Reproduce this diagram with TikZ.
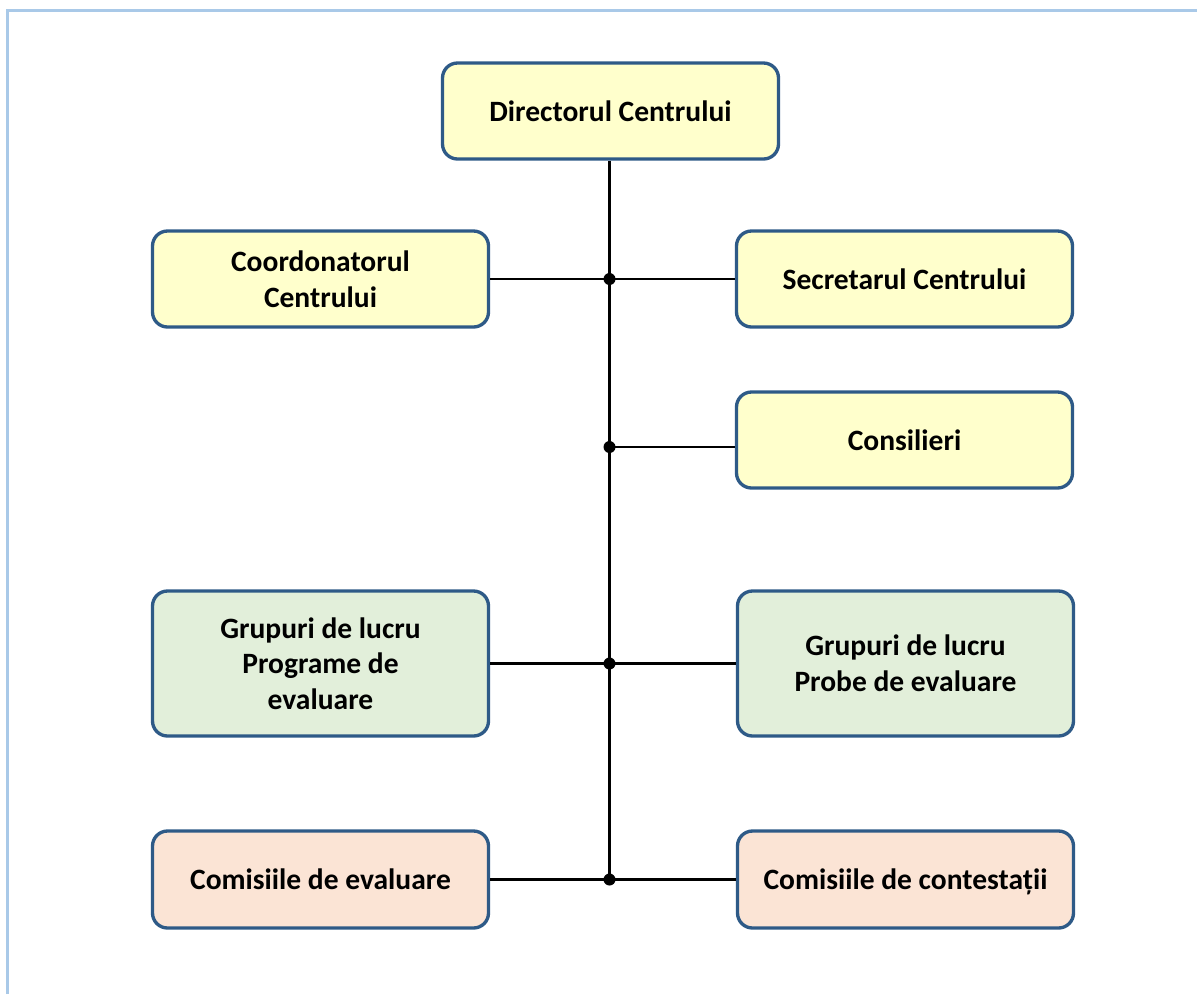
\documentclass[tikz,border=0pt]{standalone}
\usepackage{fontspec}
\setmainfont{Carlito}
\definecolor{boxline}{HTML}{2E5A87}
\definecolor{boxyellow}{HTML}{FFFFCC}
\definecolor{boxgreen}{HTML}{E2EFDA}
\definecolor{boxpeach}{HTML}{FBE4D5}
\definecolor{framebl}{HTML}{A9C9E8}
\begin{document}
\begin{tikzpicture}[
		orgbox/.style={draw=boxline, line width=1.9pt, rounded corners=0.3cm, align=center,
			minimum width=6.72cm, minimum height=1.92cm, font=\fontsize{16.8}{20.3}\selectfont\bfseries},
		yellowbox/.style={orgbox, fill=boxyellow},
		greenbox/.style={orgbox, fill=boxgreen, minimum height=2.9cm},
		peachbox/.style={orgbox, fill=boxpeach, minimum height=1.94cm, text height=11.6pt, text depth=0pt},
		link/.style={line width=1.6pt},
		joint/.style={circle, fill=black, inner sep=0pt, minimum size=0.24cm}
	]
		\useasboundingbox (0,0) rectangle (23.94,-19.88);
		\draw[framebl, line width=0.05cm] (0.15,-19.88) -- (0.15,-0.21) -- (23.94,-0.21);
		
		\node[yellowbox] (dir) at (12.21,-2.22) {Directorul Centrului};
		\node[yellowbox] (coord) at (6.41,-5.58) {Coordonatorul\\Centrului};
		\node[yellowbox] (secr) at (18.09,-5.58) {Secretarul Centrului};
		\node[yellowbox] (cons) at (18.09,-8.80) {Consilieri};
		\node[greenbox] (gprog) at (6.41,-13.27) {Grupuri de lucru\\Programe de\\evaluare};
		\node[greenbox] (gprob) at (18.11,-13.27) {Grupuri de lucru\\Probe de evaluare};
		\node[peachbox] (ceval) at (6.41,-17.59) {Comisiile de evaluare};
		\node[peachbox] (ccont) at (18.11,-17.59) {Comisiile de contestații};
		
		% junctions on the trunk
		\coordinate (j1) at (12.19,-5.58);
		\coordinate (j2) at (12.19,-8.94);
		\coordinate (j3) at (12.19,-13.27);
		\coordinate (j4) at (12.19,-17.59);
		
		\draw[link] (dir.south -| j1) -- (j4);
		\draw[link] (coord.east) -- (secr.west);
		\draw[link] (j2) -- (j2 -| cons.west);
		\draw[link] (gprog.east) -- (gprob.west);
		\draw[link] (ceval.east) -- (ccont.west);
		\foreach \j in {j1,j2,j3,j4}{
			\node[joint] at (\j) {};
		}
\end{tikzpicture}
\end{document}
